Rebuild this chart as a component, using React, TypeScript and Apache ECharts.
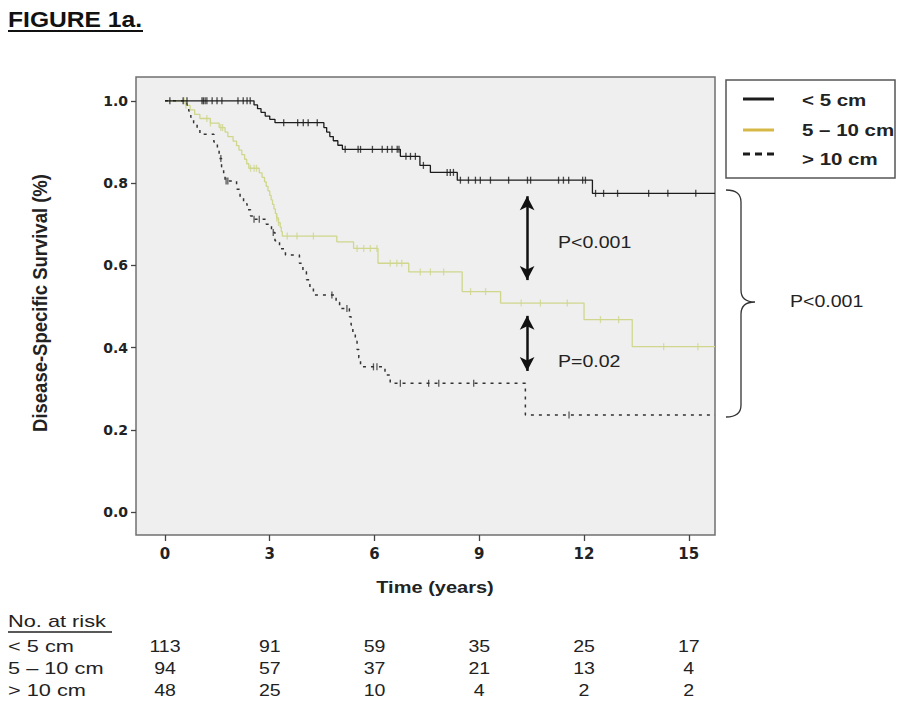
import React, { useEffect, useRef } from "react";
import * as echarts from "echarts";

// ---------- data ----------
const groupNames = ["< 5 cm", "5 – 10 cm", "> 10 cm"];
const xTicks = [0, 3, 6, 9, 12, 15];
const yTicks = [0, 0.2, 0.4, 0.6, 0.8, 1.0];

// Kaplan-Meier steps [time (years), survival after the step]
const stepsSmall: [number, number][] = [
  [0, 1.0], [2.55, 0.99], [2.65, 0.981], [2.75, 0.972], [2.87, 0.963], [3.0, 0.955], [3.15, 0.947],
  [4.55, 0.935], [4.63, 0.924], [4.72, 0.913], [4.82, 0.903], [4.95, 0.892], [5.08, 0.882],
  [6.74, 0.865], [7.3, 0.843], [7.6, 0.826], [8.37, 0.807], [12.24, 0.775], [15.75, 0.775],
];
const stepsMid: [number, number][] = [
  [0, 1.0], [0.6, 0.989], [0.72, 0.978], [0.85, 0.967], [1.0, 0.957], [1.3, 0.946], [1.55, 0.935],
  [1.72, 0.924], [1.8, 0.913], [1.95, 0.902], [2.05, 0.891], [2.12, 0.88], [2.2, 0.869], [2.28, 0.858],
  [2.34, 0.847], [2.4, 0.836], [2.7, 0.825], [2.78, 0.814], [2.85, 0.803], [2.9, 0.792], [2.95, 0.781],
  [3.0, 0.77], [3.04, 0.759], [3.08, 0.748], [3.12, 0.737], [3.16, 0.726], [3.2, 0.715], [3.25, 0.704],
  [3.3, 0.693], [3.33, 0.682], [3.36, 0.671], [4.92, 0.657], [5.4, 0.641], [6.1, 0.605], [6.98, 0.584],
  [8.51, 0.536], [9.61, 0.508], [12.0, 0.468], [13.38, 0.402], [15.75, 0.402],
];
const stepsLarge: [number, number][] = [
  [0, 1.0], [0.62, 0.99], [0.68, 0.975], [0.74, 0.96], [0.82, 0.947], [0.92, 0.933], [1.0, 0.919],
  [1.4, 0.9], [1.5, 0.88], [1.55, 0.86], [1.62, 0.84], [1.68, 0.82], [1.72, 0.805], [2.05, 0.785],
  [2.15, 0.765], [2.25, 0.75], [2.35, 0.735], [2.45, 0.72], [2.53, 0.712], [2.9, 0.7], [3.05, 0.68],
  [3.15, 0.66], [3.28, 0.64], [3.45, 0.625], [3.85, 0.605], [3.95, 0.585], [4.05, 0.565], [4.15, 0.545],
  [4.25, 0.528], [4.9, 0.51], [5.0, 0.495], [5.28, 0.475], [5.33, 0.455], [5.38, 0.435], [5.45, 0.415],
  [5.5, 0.395], [5.55, 0.375], [5.6, 0.353], [6.3, 0.333], [6.45, 0.313], [10.32, 0.236], [15.75, 0.236],
];

// censored observation times
const censorSmall = [
  0.14, 0.52, 0.63, 1.06, 1.1, 1.15, 1.2, 1.35, 1.49, 1.63, 2.09, 2.24, 2.35, 2.44,
  3.4, 3.8, 3.96, 4.1, 4.36, 5.16, 5.53, 5.6, 5.94, 6.22, 6.37, 6.5, 6.65, 6.7,
  6.9, 7.03, 7.17, 7.4, 8.08, 8.17, 8.26, 8.46, 8.69, 8.89, 9.03, 9.32, 9.84, 10.38, 10.47,
  11.27, 11.41, 11.56, 11.96, 12.04, 12.33, 12.56, 12.96, 13.85, 14.4, 15.2,
];
const censorMid = [
  0.55, 0.6, 1.2, 1.3, 1.6, 1.65, 2.45, 2.55, 2.62, 3.2, 3.25, 3.5, 3.78, 4.25, 5.5, 5.69, 5.88, 6.07,
  6.45, 6.64, 6.78, 7.31, 7.6, 7.98, 8.75, 9.18, 10.2, 10.75, 11.52, 12.47, 12.99, 14.28, 15.26,
];
const censorLarge = [1.6, 1.75, 1.8, 2.55, 2.7, 3.1, 4.78, 5.21, 5.97, 6.07, 6.74, 7.55, 7.84, 8.84, 11.57];

// numbers at risk
const riskTimes = [0, 3, 6, 9, 12, 15];
const riskSmall = [113, 91, 59, 35, 25, 17];
const riskMid = [94, 57, 37, 21, 13, 4];
const riskLarge = [48, 25, 10, 4, 2, 2];

// comparison annotations: [time, upper, lower]
const arrowTop: [number, number, number] = [10.37, 0.768, 0.564];
const arrowBottom: [number, number, number] = [10.37, 0.477, 0.343];
const pLabels = ["P<0.001", "P=0.02", "P<0.001"];

// ---------- styles ----------
const FONT = "'DejaVu Sans', Arial, sans-serif";
const ARIAL = "'Liberation Sans', Arial, sans-serif";
const colSmall = "#1c1c1c";
const colMid = "#d0d78c";
const colMidLegend = "#d6b846";
const colLarge = "#333333";

function survivalAt(steps: [number, number][], t: number) {
  let s = steps[0][1];
  for (const [ti, si] of steps) {
    if (ti <= t) s = si;
    else break;
  }
  return s;
}

const BRACE_D =
  "M0,0 C10,0 15,4 15,12 L15,100 C15,108 20,112 29,112 C20,112 15,116 15,124 L15,215 C15,223 10,227 0,227";
let braceRegistered = false;

export default function App() {
  const ref = useRef<HTMLDivElement>(null);

  useEffect(() => {
    if (!ref.current) return;
    if (!braceRegistered) {
      echarts.graphic.registerShape("brace", echarts.graphic.extendPath(BRACE_D, {}));
      braceRegistered = true;
    }
    const chart = echarts.init(ref.current, null, { renderer: "svg" });

    const censorSeries = (name: string, times: number[], steps: [number, number][], color: string) => ({
      name,
      type: "scatter",
      data: times.map((t) => [t, survivalAt(steps, t)]),
      symbol: "rect",
      symbolSize: [1.3, 7],
      itemStyle: { color },
      silent: true,
      z: 4,
    });

    chart.setOption({
      animation: false,
      backgroundColor: "#ffffff",
      grid: {
        left: 136,
        top: 77,
        width: 579,
        height: 458,
        show: true,
        backgroundColor: "#efefef",
        borderColor: "#707070",
        borderWidth: 1.5,
      },
      xAxis: {
        type: "value",
        min: -0.83,
        max: 15.75,
        axisLine: { show: false, onZero: false },
        splitLine: { show: false },
        axisTick: {
          show: true,
          customValues: xTicks,
          length: 6,
          lineStyle: { color: "#444", width: 1.3 },
        },
        axisLabel: {
          customValues: xTicks,
          margin: 11,
          color: "#222",
          fontFamily: FONT,
          fontWeight: "bold",
          fontSize: 15,
        },
      },
      yAxis: {
        type: "value",
        min: -0.056,
        max: 1.058,
        axisLine: { show: false, onZero: false },
        splitLine: { show: false },
        axisTick: {
          show: true,
          customValues: yTicks,
          length: 5,
          lineStyle: { color: "#444", width: 1.3 },
        },
        axisLabel: {
          customValues: yTicks,
          margin: 8,
          color: "#222",
          fontFamily: FONT,
          fontWeight: "bold",
          fontSize: 14,
          formatter: (v: number) => v.toFixed(1),
        },
      },
      series: [
        {
          name: groupNames[1],
          type: "line",
          step: "end",
          data: stepsMid,
          symbol: "none",
          lineStyle: { color: colMid, width: 1.3 },
          silent: true,
          z: 2,
        },
        censorSeries(groupNames[1] + " censored", censorMid, stepsMid, colMid),
        {
          name: groupNames[2],
          type: "line",
          step: "end",
          data: stepsLarge,
          symbol: "none",
          lineStyle: { color: colLarge, width: 1.5, type: [3, 5] },
          silent: true,
          z: 3,
        },
        censorSeries(groupNames[2] + " censored", censorLarge, stepsLarge, colLarge),
        {
          name: groupNames[0],
          type: "line",
          step: "end",
          data: stepsSmall,
          symbol: "none",
          lineStyle: { color: colSmall, width: 1.3 },
          silent: true,
          z: 5,
          markLine: {
            silent: true,
            symbol: ["arrow", "arrow"],
            symbolSize: [11, 14],
            label: { show: false },
            lineStyle: { color: "#111", width: 2.5, type: "solid" },
            data: [
              [{ coord: [arrowTop[0], arrowTop[1]] }, { coord: [arrowTop[0], arrowTop[2]] }],
              [{ coord: [arrowBottom[0], arrowBottom[1]] }, { coord: [arrowBottom[0], arrowBottom[2]] }],
            ],
          },
        },
        censorSeries(groupNames[0] + " censored", censorSmall, stepsSmall, colSmall),
      ],
    });

    // graphic overlay: title, axis titles, legend, brace, p-values, risk table
    const txt = (
      text: string,
      x: number,
      y: number,
      opts: {
        size?: number; bold?: boolean; align?: string; rotation?: number; color?: string;
        sx?: number; sy?: number; family?: string;
      } = {}
    ) => ({
      type: "text",
      x,
      y,
      rotation: opts.rotation || 0,
      scaleX: opts.sx || 1,
      scaleY: opts.sy || 1,
      silent: true,
      style: {
        text,
        fill: opts.color || "#222",
        font: `${opts.bold ? "bold " : ""}${opts.size || 16}px ${opts.family || ARIAL}`,
        textAlign: opts.align || "left",
        textVerticalAlign: "middle",
      },
    });

    const elements: any[] = [];
    elements.push(txt("FIGURE 1a.", 8, 19, { size: 22, bold: true, color: "#111", sx: 1.12 }));
    elements.push({ type: "line", silent: true, shape: { x1: 8, y1: 31, x2: 143, y2: 31 }, style: { stroke: "#111", lineWidth: 2 } });

    elements.push(txt("Disease-Specific Survival (%)", 40, 303, { size: 18.5, bold: true, align: "center", rotation: Math.PI / 2, sy: 1.12 }));
    elements.push(txt("Time (years)", 435, 588, { size: 16, bold: true, align: "center", sx: 1.25 }));

    // legend box
    elements.push({ type: "rect", silent: true, shape: { x: 726, y: 80, width: 169, height: 98 }, style: { fill: "#fff", stroke: "#555", lineWidth: 1.5 } });
    elements.push({ type: "line", silent: true, shape: { x1: 743, y1: 99, x2: 774, y2: 99 }, style: { stroke: colSmall, lineWidth: 3 } });
    elements.push({ type: "line", silent: true, shape: { x1: 743, y1: 130, x2: 774, y2: 130 }, style: { stroke: colMidLegend, lineWidth: 3 } });
    elements.push({ type: "line", silent: true, shape: { x1: 743, y1: 154, x2: 774, y2: 154 }, style: { stroke: colSmall, lineWidth: 3, lineDash: [7, 5] } });
    elements.push(txt(groupNames[0], 802, 100, { size: 16, bold: true, sx: 1.28 }));
    elements.push(txt(groupNames[1], 802, 130, { size: 16, bold: true, sx: 1.28 }));
    elements.push(txt(groupNames[2], 802, 159, { size: 16, bold: true, sx: 1.28 }));

    // brace + p-values
    elements.push({ type: "brace", x: 726, y: 190, silent: true, style: { fill: "none", stroke: "#333", lineWidth: 1.3 } });
    elements.push(txt(pLabels[0], 558, 242, { size: 17, sx: 1.15 }));
    elements.push(txt(pLabels[1], 558, 361, { size: 17, sx: 1.15 }));
    elements.push(txt(pLabels[2], 790, 301, { size: 17, sx: 1.15 }));

    // risk table
    elements.push(txt("No. at risk", 8, 621, { size: 17, sx: 1.28 }));
    elements.push({ type: "line", silent: true, shape: { x1: 8, y1: 632, x2: 112, y2: 632 }, style: { stroke: "#222", lineWidth: 1.3 } });
    const rows = [riskSmall, riskMid, riskLarge];
    const rowY = [646, 668, 690];
    rows.forEach((vals, r) => {
      elements.push(txt(groupNames[r], 8, rowY[r], { size: 17, sx: 1.28 }));
      vals.forEach((v, i) => {
        const px = chart.convertToPixel({ gridIndex: 0 }, [riskTimes[i], 0]) as number[];
        elements.push(txt(String(v), px[0], rowY[r], { size: 17, align: "center", sx: 1.15 }));
      });
    });

    chart.setOption({ graphic: { elements } });

    return () => chart.dispose();
  }, []);

  return (
    <div
      ref={ref}
      style={{ position: "absolute", left: 0, top: 0, width: 905, height: 705, background: "#fff" }}
    />
  );
}
